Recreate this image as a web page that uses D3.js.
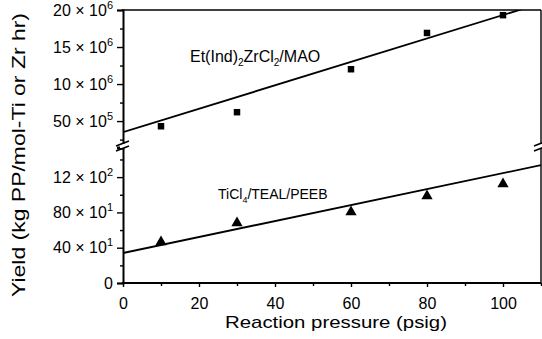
<!DOCTYPE html>
<html>
<head>
<meta charset="utf-8">
<script src="https://cdn.jsdelivr.net/npm/d3@7"></script>
<style>
  body { margin: 0; background: #fff; }
  svg { display: block; font-family: "Liberation Sans", Arial, Helvetica, sans-serif; }
</style>
</head>
<body>
<div id="chart"></div>
<script>
// data
const pressure = [10, 30, 60, 80, 100];
const zrYield = [4.3e6, 6.2e6, 12.0e6, 16.9e6, 19.3e6];
const tiYield = [464, 679, 804, 985, 1121];
const zrFitX = [0, 110], zrFitY = [3.5e6, 20.9e6];
const tiFitX = [0, 110], tiFitY = [340, 1336];

const xTicks = [0, 20, 40, 60, 80, 100];
const xMinor = [10, 30, 50, 70, 90, 110];
const upTicks = [5e6, 10e6, 15e6, 20e6];
const upLabels = [["50", "5"], ["10", "6"], ["15", "6"], ["20", "6"]];
const upMinor = [2.5e6, 7.5e6, 12.5e6, 17.5e6];
const lowTicks = [0, 400, 800, 1200];
const lowLabels = [["0", null], ["40", "1"], ["80", "1"], ["12", "2"]];
const lowMinor = [200, 600, 1000, 1400];

const width = 542, height = 339;

const svg = d3.select("#chart").append("svg")
  .attr("width", width)
  .attr("height", height);

const x = d3.scaleLinear().domain([0, 110]).range([123, 541]);
const yUp = d3.scaleLinear().domain([1.5e6, 20e6]).range([147, 10]);
const yLow = d3.scaleLinear().domain([0, 1530]).range([283, 148]);

svg.append("clipPath").attr("id", "clipUp")
  .append("rect").attr("x", 123).attr("y", 10).attr("width", 418).attr("height", 137);
svg.append("clipPath").attr("id", "clipLow")
  .append("rect").attr("x", 123).attr("y", 148).attr("width", 418).attr("height", 135);

// box: top and right
svg.append("line").attr("x1", 122).attr("x2", 541).attr("y1", 10).attr("y2", 10)
  .attr("stroke", "#000").attr("stroke-width", 1.4);
svg.append("line").attr("x1", 541).attr("x2", 541).attr("y1", 10).attr("y2", 284)
  .attr("stroke", "#000").attr("stroke-width", 1.4);

// label helper: mantissa × 10^exp
function sciLabel(sel, lab) {
  sel.text(null);
  sel.append("tspan").text(lab[0]);
  if (lab[1] != null) {
    sel.append("tspan").text(" × 10");
    sel.append("tspan").attr("dy", -7).attr("font-size", 11).text(lab[1]);
  }
}

// upper y axis
const gUp = svg.append("g").attr("transform", "translate(123,0)")
  .call(d3.axisLeft(yUp).tickValues(upTicks).tickSize(6).tickPadding(4).tickFormat(""));
gUp.selectAll(".tick text").each(function(d, i) { sciLabel(d3.select(this), upLabels[i]); });
svg.append("g").attr("transform", "translate(123,0)")
  .call(d3.axisLeft(yUp).tickValues(upMinor).tickSize(3).tickFormat(""))
  .select(".domain").remove();

// lower y axis
const gLow = svg.append("g").attr("transform", "translate(123,0)")
  .call(d3.axisLeft(yLow).tickValues(lowTicks).tickSize(6).tickPadding(4).tickFormat(""));
gLow.selectAll(".tick text").each(function(d, i) { sciLabel(d3.select(this), lowLabels[i]); });
svg.append("g").attr("transform", "translate(123,0)")
  .call(d3.axisLeft(yLow).tickValues(lowMinor).tickSize(3).tickFormat(""))
  .select(".domain").remove();

// x axis
const gx = svg.append("g").attr("transform", "translate(0,283)")
  .call(d3.axisBottom(x).tickValues(xTicks).tickSize(4).tickPadding(11));
svg.append("g").attr("transform", "translate(0,283)")
  .call(d3.axisBottom(x).tickValues(xMinor).tickSize(3).tickFormat(""))
  .select(".domain").remove();

svg.selectAll(".domain").attr("stroke-width", 2);
svg.selectAll(".tick line").attr("stroke-width", 1.4);
svg.selectAll(".tick text").attr("font-size", 16).attr("fill", "#000")
  .attr("font-family", "'Liberation Sans', Arial, sans-serif");
gx.selectAll(".domain").attr("d", "M122,0H541");

// fit lines
const line = d3.line();
svg.append("path")
  .attr("clip-path", "url(#clipUp)")
  .attr("d", line(zrFitX.map((v, i) => [x(v), yUp(zrFitY[i])])))
  .attr("fill", "none").attr("stroke", "#000").attr("stroke-width", 1.8);
svg.append("path")
  .attr("clip-path", "url(#clipLow)")
  .attr("d", line(tiFitX.map((v, i) => [x(v), yLow(tiFitY[i])])))
  .attr("fill", "none").attr("stroke", "#000").attr("stroke-width", 1.8);

// markers
svg.append("g").selectAll("path")
  .data(pressure)
  .join("path")
  .attr("transform", (d, i) => `translate(${x(d)},${yUp(zrYield[i])})`)
  .attr("d", d3.symbol(d3.symbolSquare, 42))
  .attr("fill", "#000");
svg.append("g").selectAll("path")
  .data(pressure)
  .join("path")
  .attr("transform", (d, i) => `translate(${x(d)},${yLow(tiYield[i])})`)
  .attr("d", d3.symbol(d3.symbolTriangle, 55))
  .attr("fill", "#000");

// axis breaks
[123, 541].forEach(bx => {
  svg.append("rect").attr("x", bx - 3).attr("y", 144).attr("width", 6).attr("height", 4).attr("fill", "#fff");
  [0, 5].forEach(off => {
    svg.append("line")
      .attr("x1", bx - 7).attr("y1", 146 + off)
      .attr("x2", bx + 6).attr("y2", 141 + off)
      .attr("stroke", "#000").attr("stroke-width", 1.6);
  });
});

// annotations
const t1 = svg.append("text").attr("x", 190).attr("y", 62).attr("font-size", 16);
t1.append("tspan").text("Et(Ind)");
t1.append("tspan").attr("font-size", 10).attr("dy", 4).text("2");
t1.append("tspan").attr("dy", -4).text("ZrCl");
t1.append("tspan").attr("font-size", 10).attr("dy", 4).text("2");
t1.append("tspan").attr("dy", -4).text("/MAO");

const t2 = svg.append("text").attr("x", 218).attr("y", 199).attr("font-size", 14);
t2.append("tspan").text("TiCl");
t2.append("tspan").attr("font-size", 9).attr("dy", 4).text("4");
t2.append("tspan").attr("dy", -4).text("/TEAL/PEEB");

// axis titles
svg.append("text")
  .attr("x", 336).attr("y", 328)
  .attr("text-anchor", "middle")
  .attr("font-size", 17)
  .attr("textLength", 222).attr("lengthAdjust", "spacingAndGlyphs")
  .text("Reaction pressure (psig)");

svg.append("text")
  .attr("transform", "translate(25,155) rotate(-90)")
  .attr("text-anchor", "middle")
  .attr("font-size", 19)
  .attr("textLength", 284).attr("lengthAdjust", "spacingAndGlyphs")
  .text("Yield (kg PP/mol-Ti or Zr hr)");
</script>
</body>
</html>
